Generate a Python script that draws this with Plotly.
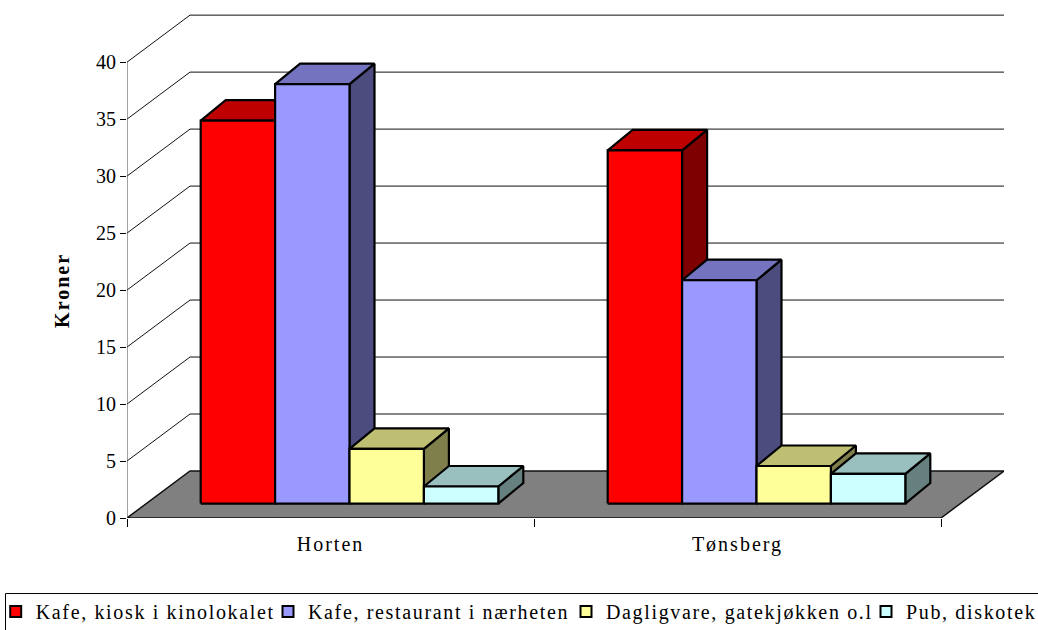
import plotly.graph_objects as go

categories = ["Horten", "Tønsberg"]
series_names = ["Kafe, kiosk i kinolokalet", "Kafe, restaurant i nærheten",
                "Dagligvare, gatekjøkken o.l", "Pub, diskotek"]
horten = [33.6, 36.8, 4.8, 1.5]
tonsberg = [31.0, 19.6, 3.3, 2.6]
front_colors = ["#FF0000", "#9999FF", "#FFFF99", "#CCFFFF"]
top_colors = ["#BF0000", "#7373BF", "#BFBF73", "#99BFBF"]
side_colors = ["#7F0000", "#4C4C7F", "#7F7F4C", "#667F7F"]
y_ticks = [0, 5, 10, 15, 20, 25, 30, 35, 40]
legend_left_px = [1.7, 274, 572, 872]

PX_X = 407.0
PX_Y = 11.39
WALL_DX = 63 / PX_X
WALL_DY = 47 / PX_Y
BAR_W = 74.4 / PX_X
GAP = 73.7 / PX_X
BASE_DY = 14.4 / PX_Y
DEPTH_DX = 25 / PX_X
DEPTH_DY = 20.5 / PX_Y
X_MAX = 2 + WALL_DX
Y_MAX = 40 + WALL_DY + 0.1
PLOT_L, PLOT_B = 127, 112
PLOT_W = X_MAX * PX_X
PLOT_H = Y_MAX * PX_Y
FW, FH = 1038, 630

fig = go.Figure()


def poly(xs, ys, fill=None, lw=1.0, color="#000000"):
    fig.add_trace(go.Scatter(
        x=xs, y=ys, mode="lines", showlegend=False, hoverinfo="skip", cliponaxis=False,
        line=dict(color=color, width=lw),
        fill="toself" if fill else None, fillcolor=fill))


# back wall and side wall gridlines
for t in y_ticks[1:]:
    poly([0, WALL_DX, X_MAX], [t, t + WALL_DY, t + WALL_DY], lw=1, color="#111111")
# floor
poly([0, WALL_DX, X_MAX, 2, 0], [0, WALL_DY, WALL_DY, 0, 0], fill="#808080", lw=1.5, color="#111111")
# value axis line
poly([0, 0], [0, 40], lw=1, color="#444444")

# bars
for c, values in enumerate([horten, tonsberg]):
    for s, v in enumerate(values):
        x0 = c + GAP + s * BAR_W
        x1 = x0 + BAR_W
        y0 = BASE_DY
        y1 = BASE_DY + v
        poly([x1, x1 + DEPTH_DX, x1 + DEPTH_DX, x1, x1],
             [y0, y0 + DEPTH_DY, y1 + DEPTH_DY, y1, y0], fill=side_colors[s], lw=2.2)
        poly([x0, x0 + DEPTH_DX, x1 + DEPTH_DX, x1, x0],
             [y1, y1 + DEPTH_DY, y1 + DEPTH_DY, y1, y1], fill=top_colors[s], lw=2.2)
        poly([x0, x1, x1, x0, x0], [y0, y0, y1, y1, y0], fill=front_colors[s], lw=2.2)

# legend entries, each in its own legend so the spacing can follow the reference
legends = {}
for i, (name, col, left) in enumerate(zip(series_names, front_colors, legend_left_px)):
    key = "legend" if i == 0 else f"legend{i + 1}"
    fig.add_trace(go.Scatter(
        x=[None], y=[None], mode="markers", name=name, legend=key,
        marker=dict(symbol="square", size=11, color=col, line=dict(color="#000000", width=2))))
    legends[key] = dict(orientation="h", xref="container", yref="paper",
                        x=left / FW, xanchor="left", y=-(592 - (FH - PLOT_B)) / PLOT_H, yanchor="top",
                        bgcolor="rgba(0,0,0,0)", borderwidth=0,
                        font=dict(family="Liberation Serif", size=20), itemwidth=30, indentation=-6)

fig.update_layout(
    width=FW, height=FH,
    margin=dict(l=PLOT_L, r=FW - PLOT_L - PLOT_W, t=FH - PLOT_B - PLOT_H, b=PLOT_B, autoexpand=False),
    paper_bgcolor="#FFFFFF", plot_bgcolor="#FFFFFF",
    font=dict(family="Liberation Serif", size=20, color="#000000"),
    showlegend=True,
    shapes=[dict(type="rect", xref="paper", yref="paper",
                 x0=(5.5 - PLOT_L) / PLOT_W, x1=(1060 - PLOT_L) / PLOT_W,
                 y0=-(650 - (FH - PLOT_B)) / PLOT_H, y1=-(593.5 - (FH - PLOT_B)) / PLOT_H,
                 line=dict(color="#000000", width=1), fillcolor="rgba(0,0,0,0)")],
    annotations=[dict(text="<b>Kroner</b>", xref="paper", yref="paper",
                      x=(62 - PLOT_L) / PLOT_W, y=(FH - PLOT_B - 291) / PLOT_H,
                      xanchor="center", yanchor="middle", textangle=-90, showarrow=False,
                      font=dict(size=20))],
    xaxis=dict(range=[0, X_MAX], showgrid=False, zeroline=False, showline=False,
               tickmode="array", tickvals=[0.5, 1.5], ticktext=categories, ticks="",
               tickfont=dict(size=20), ticklabelstandoff=12,
               minor=dict(tickmode="array", tickvals=[0, 1, 2], ticks="outside", ticklen=8,
                          tickcolor="#000000", tickwidth=1, showgrid=False)),
    yaxis=dict(range=[0, Y_MAX], showgrid=False, zeroline=False, showline=False,
               tickmode="array", tickvals=y_ticks, ticks="outside", ticklen=6,
               tickcolor="#000000", tickwidth=1, tickfont=dict(size=20)),
    **legends,
)

post = """
document.body.style.margin = '0';
var st = document.createElement('style');
st.textContent = '.legendtext,.legend2text,.legend3text,.legend4text{letter-spacing:1.65px}'
  + ' .xtick text,.annotation-text{letter-spacing:2px}';
document.head.appendChild(st);
var gd = document.querySelector('.plotly-graph-div');
Plotly.relayout(gd, {'legend.font.size': 20.001, 'legend2.font.size': 20.001,
                     'legend3.font.size': 20.001, 'legend4.font.size': 20.001});
"""
fig.write_html("out.html", post_script=post, config=dict(displayModeBar=False))
